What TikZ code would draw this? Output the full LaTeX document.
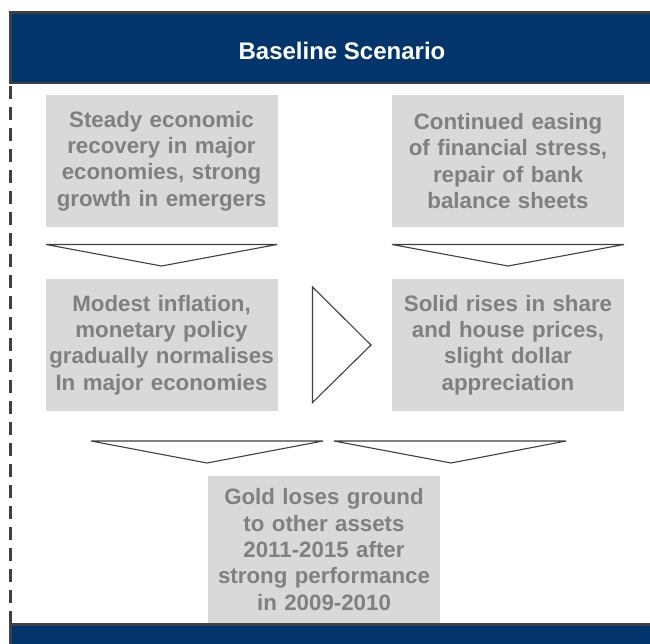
\documentclass[tikz,border=0pt]{standalone}
\usepackage{fontspec}
\setmainfont{Liberation Sans}
\definecolor{hdrblue}{RGB}{1,53,107}
\definecolor{edgegray}{RGB}{64,64,64}
\definecolor{boxgray}{RGB}{217,217,217}
\definecolor{txtgray}{RGB}{128,128,128}
\tikzset{
  infobox/.style={fill=boxgray, draw=none, inner sep=0pt, minimum width=232pt, minimum height=132pt,
    text width=232pt, align=center, text=txtgray, font=\bfseries\fontsize{22.3}{26.4}\selectfont},
  bar/.style={fill=hdrblue, draw=edgegray, line width=2.5pt},
  arrowtri/.style={fill=white, draw=edgegray, line width=1.1pt, line join=miter}
}
\begin{document}
\begin{tikzpicture}[x=1pt,y=-1pt]
\useasboundingbox (0,0) rectangle (650,643);
\clip (0,0) rectangle (650,643);
\fill[white] (0,0) rectangle (650,643);
% header
\draw[bar] (10.5,12.5) rectangle (670,83);
\node[text=white, font=\bfseries\fontsize{24}{28}\selectfont] (hdr) at (342,51) {Baseline Scenario};
% bottom bar
\draw[bar] (10.5,624.5) rectangle (670,680);
% dashed left line
\draw[edgegray, line width=3.5pt, dash pattern=on 13pt off 8pt] (10.5,86) -- (10.5,623);
% boxes
\node[infobox] (b1) at (161.5,161) {Steady economic\\recovery in major\\economies, strong\\growth in emergers};
\node[infobox] (b2) at (508,161) {Continued easing\\of financial stress,\\repair of bank\\balance sheets};
\node[infobox] (b3) at (161.5,345) {Modest inflation,\\monetary policy\\gradually normalises\\In major economies};
\node[infobox] (b4) at (508,345) {Solid rises in share\\and house prices,\\slight dollar\\appreciation};
\node[infobox, minimum height=147pt] (b5) at (324,549.5) {Gold loses ground\\to other assets\\2011-2015 after\\strong performance\\in 2009-2010};
% arrow triangles
\draw[arrowtri] (46,244.5) -- (277,244.5) -- (161.5,266) -- cycle;
\draw[arrowtri] (392,244.5) -- (624,244.5) -- (508,266) -- cycle;
\draw[arrowtri] (312.5,287) -- (371,345) -- (312.5,402.5) -- cycle;
\draw[arrowtri] (91,441) -- (323,441) -- (207,463) -- cycle;
\draw[arrowtri] (334,441) -- (566,441) -- (451,463) -- cycle;
\end{tikzpicture}
\end{document}
